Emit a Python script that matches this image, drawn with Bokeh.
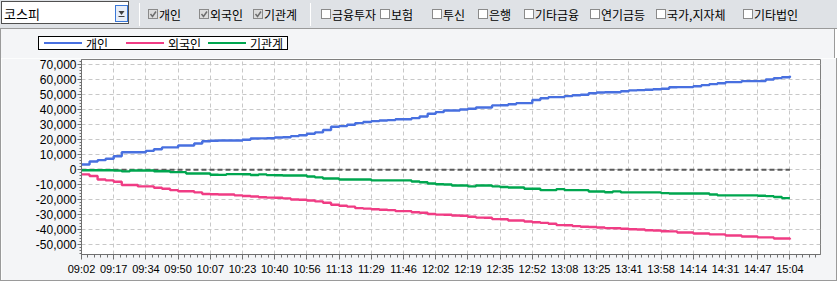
import numpy as np
from bokeh.plotting import figure
from bokeh.models import Range1d, SingleIntervalTicker, NumeralTickFormatter, Div
from bokeh.layouts import column
from bokeh.embed import file_html
from bokeh.resources import INLINE

# ---------------- data ----------------
market = "코스피"
investor_filters = ["개인", "외국인", "기관계", "금융투자", "보험", "투신", "은행",
                    "기타금융", "연기금등", "국가,지자체", "기타법인"]
filter_checked = [True, True, True, False, False, False, False, False, False, False, False]

time_labels = ["09:02", "09:17", "09:34", "09:50", "10:07", "10:23", "10:40", "10:56",
               "11:13", "11:29", "11:46", "12:02", "12:19", "12:35", "12:52", "13:08",
               "13:25", "13:41", "13:58", "14:14", "14:31", "14:47", "15:04"]
samples_per_tick = 4

series_names = ["개인", "외국인", "기관계"]

individual = [3500, 5500, 6400, 7300, 9000, 11700, 11700, 11700, 12600, 13700,
              14900, 14900, 16200, 16200, 17500, 19000, 19300, 19500, 19500, 19500,
              20000, 20800, 20900, 21000, 21500, 21700, 22400, 23000, 24000, 24900,
              26500, 28700, 29100, 30000, 31100, 31800, 32400, 32800, 33100, 33700,
              33700, 34400, 35500, 37300, 38400, 39500, 39500, 40200, 40700, 41500,
              41500, 42900, 43000, 43700, 44400, 44400, 46500, 47700, 48400, 48400,
              49100, 49700, 50000, 51000, 51500, 51700, 51700, 52300, 52900, 53100,
              53300, 53700, 54000, 55000, 55100, 55100, 55700, 56400, 57100, 57700,
              58400, 58400, 59100, 59100, 59100, 60200, 61100, 61700, 62600]

foreign = [-3100, -4200, -6500, -7100, -8000, -10200, -10200, -11100, -11100, -12000,
           -12700, -13600, -14300, -14300, -15100, -16200, -16300, -16500, -16500, -17100,
           -17500, -17800, -18300, -18600, -18700, -19100, -19800, -20000, -20500, -21100,
           -22000, -23300, -24000, -24600, -25600, -25900, -26300, -26700, -26900, -27600,
           -27600, -28300, -28700, -29500, -29900, -30000, -30500, -30700, -31300, -31900,
           -32000, -32900, -33000, -33800, -33800, -34500, -35000, -35400, -36000, -36900,
           -37000, -37600, -38000, -38200, -38500, -38900, -39000, -39300, -39700, -39800,
           -40300, -40500, -41000, -41100, -41800, -41800, -42500, -42500, -43100, -43100,
           -43800, -43800, -44500, -44500, -45100, -45100, -45800, -45800, -46500]

institution = [-300, -300, -300, -300, -600, -1100, -500, -500, -500, -1000,
               -1000, -1600, -1600, -2500, -2500, -2500, -3300, -3400, -2900, -2900,
               -3000, -3500, -3100, -3600, -3700, -3800, -3800, -3800, -4500, -5100,
               -5800, -5800, -6500, -6500, -6500, -6500, -7100, -7100, -7100, -7100,
               -7100, -7800, -8300, -9200, -9700, -9800, -10500, -10500, -11100, -10500,
               -10500, -11100, -11500, -11800, -11800, -12700, -12700, -13600, -13600, -12900,
               -13600, -13600, -13600, -14500, -14500, -15000, -14400, -15100, -15100, -15100,
               -15100, -15100, -15600, -15800, -15800, -15800, -15800, -15800, -16500, -17100,
               -17100, -17100, -17100, -17100, -17300, -17600, -18200, -18900, -18900]

# ---------------- styles ----------------
KFONT = "Noto Sans CJK KR"
NFONT = "Liberation Sans"
TOOLBAR_BG = "#dfe2e6"
PANEL_BG = "#f4f5f7"
BORDER = "#9a9a9a"
colors = ["#4870e0", "#f03c84", "#00a64f"]

# ---------------- toolbar strip + legend strip (HTML) ----------------
box_left = [148, 199, 253, 321, 380, 432, 478, 524, 590, 656, 743]
sep_x = [139, 310]
legend_item_left = [44, 126, 208]

parts = []
parts.append('<div style="position:absolute;left:0;top:0;width:837px;height:28px;background:%s;"></div>'
             % TOOLBAR_BG)
parts.append('<div style="position:absolute;left:1px;top:1px;width:128px;height:23px;'
             'background:#ffffff;border:1px solid #505050;"></div>')
parts.append('<span style="position:absolute;left:4px;top:5px;font-size:13px;line-height:17px;'
             'white-space:nowrap;">%s</span>' % market)
parts.append('<svg style="position:absolute;left:115px;top:5px;" width="13" height="17">'
             '<rect x="0.5" y="0.5" width="12" height="16" fill="#e8eef8" stroke="#3a78d8"/>'
             '<polygon points="3.5,6 9.5,6 6.5,10" fill="#404040"/>'
             '<line x1="3.5" y1="11.5" x2="9.5" y2="11.5" stroke="#404040"/></svg>')
for s in sep_x:
    parts.append('<div style="position:absolute;left:%dpx;top:3px;width:1px;height:23px;'
                 'background:#9a9a9a;border-right:1px solid #ffffff;"></div>' % s)
for b, lab, chk in zip(box_left, investor_filters, filter_checked):
    fill = "#dcdcdc" if chk else "#ffffff"
    mark = ('<polyline points="2.5,5 4.5,7.5 8,2.5" fill="none" stroke="#6e6e6e" '
            'stroke-width="1.5"/>' if chk else '')
    parts.append('<svg style="position:absolute;left:%dpx;top:9px;" width="11" height="11">'
                 '<rect x="0.5" y="0.5" width="9" height="9" fill="%s" stroke="#8a8a8a"/>%s</svg>'
                 % (b, fill, mark))
    parts.append('<span style="position:absolute;left:%dpx;top:6px;line-height:17px;'
                 'white-space:nowrap;">%s</span>' % (b + 11, lab))
parts.append('<div style="position:absolute;left:0;top:28px;width:837px;height:1px;background:%s;"></div>'
             % BORDER)
parts.append('<div style="position:absolute;left:0;top:29px;width:835px;height:29px;background:%s;'
             'border-left:1px solid %s;border-right:1px solid %s;"></div>' % (PANEL_BG, BORDER, BORDER))
# legend
parts.append('<div style="position:absolute;left:38px;top:36px;width:250px;height:14px;'
             'background:#ffffff;border:1px solid #000000;"></div>')
for lx, nm, col in zip(legend_item_left, series_names, colors):
    parts.append('<div style="position:absolute;left:%dpx;top:42px;width:38px;height:2px;'
                 'background:%s;"></div>' % (lx, col))
    parts.append('<span style="position:absolute;left:%dpx;top:36px;line-height:15px;'
                 'white-space:nowrap;">%s</span>' % (lx + 42, nm))

header_html = ('<div style="position:relative;width:837px;height:58px;'
               'font-family:\'%s\';font-size:12px;color:#000000;overflow:hidden;">%s</div>'
               % (KFONT, "".join(parts)))
header = Div(text=header_html, width=837, height=58, styles={"margin": "0", "padding": "0"})

# ---------------- chart ----------------
n = len(individual)
x = np.arange(n) / samples_per_tick

p = figure(width=835, height=222, x_range=Range1d(0, 22.95), y_range=Range1d(-56500, 73500),
           output_backend="svg", toolbar_location=None,
           min_border_left=80, min_border_right=16, min_border_top=1, min_border_bottom=26)
p.background_fill_color = "white"
p.border_fill_color = PANEL_BG
p.outline_line_color = "#7f7f7f"

p.xaxis.ticker = SingleIntervalTicker(interval=1, num_minor_ticks=5)
p.xaxis.major_label_overrides = {i: t for i, t in enumerate(time_labels)}
p.yaxis.ticker = SingleIntervalTicker(interval=10000, num_minor_ticks=5)
p.yaxis.formatter = NumeralTickFormatter(format="0,0")

for ax in (p.xaxis[0], p.yaxis[0]):
    ax.axis_line_color = "#707070"
    ax.major_tick_line_color = "#707070"
    ax.minor_tick_line_color = "#707070"
    ax.major_tick_in = 0
    ax.minor_tick_in = 0
    ax.major_label_text_color = "black"
    ax.major_label_text_font = NFONT
p.xaxis.major_tick_out = 5
p.xaxis.minor_tick_out = 3
p.xaxis.major_label_standoff = 3
p.xaxis.major_label_text_font_size = "11px"
p.yaxis.major_tick_out = 4
p.yaxis.minor_tick_out = 2
p.yaxis.major_label_standoff = 1
p.yaxis.major_label_text_font_size = "12px"

for g in (p.xgrid[0], p.ygrid[0]):
    g.grid_line_color = "#c8c8c8"
    g.grid_line_dash = "4 3"
    g.grid_line_width = 1

zeros = np.zeros(n)
p.line(x, zeros, line_color="#5a5a5a", line_width=2, line_dash="5 3")

for vals, col, nm in zip([individual, foreign, institution], colors, series_names):
    p.step(x, vals, mode="after", line_color=col, line_width=2.4, name=nm)

chart = column(p, styles={"border-left": "1px solid %s" % BORDER,
                          "border-right": "1px solid %s" % BORDER,
                          "border-bottom": "1px solid %s" % BORDER})

layout = column(header, chart, spacing=0)
open("out.html", "w").write(file_html(layout, INLINE))
